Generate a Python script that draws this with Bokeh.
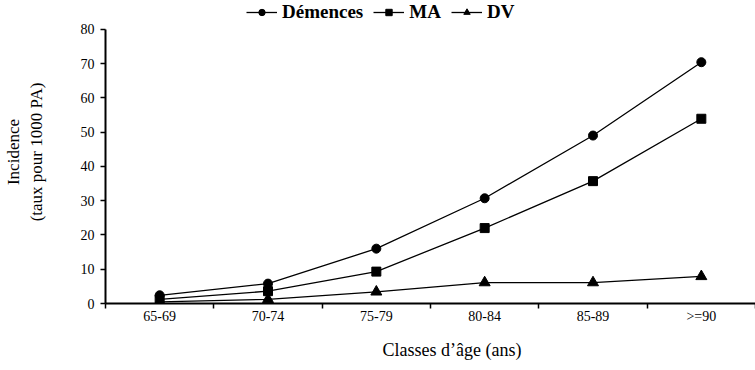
from bokeh.plotting import figure
from bokeh.models import Range1d, FixedTicker, Legend, LegendItem, Title
from bokeh.embed import file_html
from bokeh.resources import INLINE

categories = ["65-69", "70-74", "75-79", "80-84", "85-89", ">=90"]
demences = [2.4, 5.8, 16.0, 30.7, 49.0, 70.4]
ma = [1.2, 3.6, 9.3, 22.0, 35.7, 53.9]
dv = [0.5, 1.2, 3.4, 6.1, 6.1, 7.9]
y_ticks = [0, 10, 20, 30, 40, 50, 60, 70, 80]

FONT = "Liberation Serif"

xs = list(range(len(categories)))
edges = [i - 0.5 for i in range(len(categories) + 1)]

# frame reaches the top of the canvas so the legend fits inside it;
# the axis line itself is bounded to 0..80
p = figure(width=755, height=370, x_range=Range1d(-0.5, len(categories) - 0.5),
           y_range=Range1d(0, 88.4),
           output_backend="svg", toolbar_location=None,
           min_border_left=103, min_border_right=0, min_border_top=0, min_border_bottom=67)
p.outline_line_color = None
p.grid.visible = False
p.background_fill_color = "white"
p.border_fill_color = "white"

# y axis
yax = p.yaxis[0]
yax.ticker = FixedTicker(ticks=y_ticks)
yax.bounds = (y_ticks[0], y_ticks[-1])
yax.axis_line_width = 2
yax.axis_line_color = "black"
yax.major_tick_line_width = 1.5
yax.major_tick_out = 5
yax.major_tick_in = 0
yax.minor_tick_line_color = None
yax.major_label_text_font = FONT
yax.major_label_text_font_size = "14px"
yax.major_label_text_color = "black"
yax.major_label_standoff = 6
yax.axis_label = "Incidence\n(taux pour 1000 PA)"
yax.axis_label_text_font = FONT
yax.axis_label_text_font_size = "17px"
yax.axis_label_text_font_style = "normal"
yax.axis_label_text_color = "black"
yax.axis_label_standoff = 32

# x axis: labels at category centres, ticks at category boundaries
xax = p.xaxis[0]
xax.ticker = FixedTicker(ticks=xs, minor_ticks=edges)
xax.major_label_overrides = {i: c for i, c in zip(xs, categories)}
xax.axis_line_width = 2
xax.axis_line_color = "black"
xax.major_tick_line_color = None
xax.major_tick_out = 0
xax.major_tick_in = 0
xax.minor_tick_line_color = "black"
xax.minor_tick_line_width = 1.5
xax.minor_tick_out = 5
xax.minor_tick_in = 0
xax.major_label_text_font = FONT
xax.major_label_text_font_size = "14px"
xax.major_label_text_color = "black"
xax.major_label_standoff = 0

xtitle = Title(text="Classes d\u2019\u00e2ge (ans)", align="left", offset=277,
               text_font=FONT, text_font_size="18px", text_font_style="normal",
               text_color="black", standoff=22)
p.add_layout(xtitle, "below")

series = [("Démences", demences, "circle", 9),
          ("MA", ma, "square", 9),
          ("DV", dv, "triangle", 11)]
items = []
for label, vals, marker, size in series:
    lr = p.line(xs, vals, line_color="black", line_width=1.3)
    sr = p.scatter(xs, vals, marker=marker, size=size,
                   fill_color="black", line_color="black")
    items.append(LegendItem(label=label, renderers=[lr, sr]))

legend = Legend(items=items, orientation="horizontal", location=(141, 280),
                border_line_alpha=0, background_fill_alpha=0, padding=0, margin=0,
                spacing=10, glyph_width=31, glyph_height=16, label_standoff=5,
                label_text_font=FONT, label_text_font_style="bold",
                label_text_font_size="19px", label_text_color="black")
p.add_layout(legend, "center")

open("out.html", "w").write(file_html(p, INLINE))
